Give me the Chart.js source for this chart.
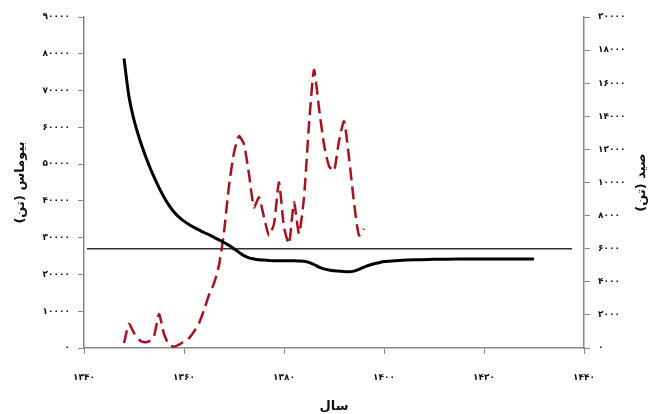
<!DOCTYPE html>
<html>
<head>
<meta charset="utf-8">
<script src="https://cdn.jsdelivr.net/npm/chart.js@4/dist/chart.umd.min.js"></script>
<style>
  html, body { margin: 0; padding: 0; background: #fff; }
  canvas { display: block; }
</style>
</head>
<body>
<canvas id="c" width="661" height="414" dir="rtl"></canvas>
<script>
// ---- data ----
const biomassYears = [1348,1349,1350,1351,1352,1353,1354,1355,1356,1357,1358,1359,1360,1361,1362,1363,1364,1365,1366,1367,1368,1369,1370,1371,1372,1373,1374,1375,1376,1377,1378,1380,1382,1384,1385,1386,1387,1388,1389,1390,1392,1393,1394,1395,1396,1397,1398,1399,1400,1403,1406,1410,1415,1420,1425,1430];
const biomassValues = [78700,68300,62000,57300,53300,49700,46500,43600,41000,38800,37000,35600,34500,33600,32800,32100,31400,30800,30100,29400,28700,27900,27000,26000,25100,24500,24200,24000,23900,23800,23700,23700,23700,23600,23300,22700,22000,21500,21200,21000,20800,20700,20900,21400,22000,22500,22900,23200,23500,23800,24000,24100,24200,24200,24200,24200];

const catchYears = [1348,1349,1350,1351,1352,1353,1354,1355,1356,1357,1358,1359,1360,1361,1362,1363,1364,1365,1366,1367,1368,1369,1370,1371,1372,1373,1374,1375,1376,1377,1378,1379,1380,1381,1382,1383,1384,1385,1386,1387,1388,1389,1390,1391,1392,1393,1394,1395,1396];
const catchValues = [300,1450,900,500,350,400,700,2050,850,200,80,200,400,600,1000,1500,2300,3200,3900,5000,7000,9800,11800,12800,12300,10500,8500,9100,7900,6800,7500,10000,7300,6300,8800,6900,9100,13500,16800,14500,12300,11000,10700,12500,13700,11500,8800,6800,7200];

const refYears = [1340.6, 1437.6];
const refValues = [6000, 6000];

const xTicks = [1340,1360,1380,1400,1420,1440];
const leftTicks = [0,10000,20000,30000,40000,50000,60000,70000,80000,90000];
const rightTicks = [0,2000,4000,6000,8000,10000,12000,14000,16000,18000,20000];

const xTitle = 'سال';
const leftTitle = 'بیوماس (تن)';
const rightTitle = 'صید (تن)';

// ---- helpers ----
const FA = '۰۱۲۳۴۵۶۷۸۹';
const toFa = v => String(v).replace(/\d/g, d => FA[d]);
const pts = (xs, ys) => xs.map((x, i) => ({ x: x, y: ys[i] }));

const tickFont = { family: 'DejaVu Sans', size: 9, weight: 'bold' };
const titleFont = { family: 'DejaVu Sans', size: 13, weight: 'bold' };

const rightTitlePlugin = {
  id: 'rightTitle',
  afterDraw(chart) {
    const ctx = chart.ctx;
    const ca = chart.chartArea;
    ctx.save();
    ctx.translate(642, (ca.top + ca.bottom) / 2);
    ctx.rotate(-Math.PI / 2);
    ctx.fillStyle = '#111';
    ctx.font = 'bold 13px "DejaVu Sans"';
    ctx.textAlign = 'center';
    ctx.textBaseline = 'middle';
    ctx.fillText(rightTitle, 0, 0);
    ctx.restore();
  }
};

new Chart(document.getElementById('c'), {
  type: 'line',
  data: {
    datasets: [
      {
        label: 'بیوماس',
        data: pts(biomassYears, biomassValues),
        yAxisID: 'y',
        borderColor: '#000',
        borderWidth: 3,
        pointRadius: 0,
        cubicInterpolationMode: 'monotone',
        fill: false
      },
      {
        label: 'صید',
        data: pts(catchYears, catchValues),
        yAxisID: 'y1',
        borderColor: '#a3141f',
        borderWidth: 2.5,
        borderDash: [13, 6],
        pointRadius: 0,
        tension: 0.2,
        fill: false
      },
      {
        label: 'MSY',
        data: pts(refYears, refValues),
        yAxisID: 'y1',
        borderColor: '#333',
        borderWidth: 1.6,
        pointRadius: 0,
        tension: 0,
        fill: false
      }
    ]
  },
  options: {
    responsive: false,
    animation: false,
    devicePixelRatio: 1,
    layout: { padding: { top: 17, left: 0, right: 0, bottom: 0 } },
    plugins: { legend: { display: false }, tooltip: { enabled: false } },
    scales: {
      x: {
        type: 'linear',
        min: 1340, max: 1440,
        afterBuildTicks: s => { s.ticks = xTicks.map(v => ({ value: v })); },
        afterFit: s => { s.height = 66; },
        border: { display: true, color: '#888', width: 1.5 },
        grid: { drawOnChartArea: false, drawTicks: true, tickLength: 6, color: '#888' },
        ticks: { color: '#111', font: tickFont, padding: 18, maxRotation: 0, callback: v => toFa(v) },
        title: { display: true, text: xTitle, color: '#111', font: titleFont, padding: { top: 4, bottom: 0 } }
      },
      y: {
        type: 'linear', position: 'left',
        min: 0, max: 90000,
        afterBuildTicks: s => { s.ticks = leftTicks.map(v => ({ value: v })); },
        afterFit: s => { s.width = 84; },
        border: { display: true, color: '#888', width: 1.5 },
        grid: { drawOnChartArea: false, drawTicks: true, tickLength: 6, color: '#888' },
        ticks: { color: '#111', font: tickFont, padding: 8, callback: v => toFa(v) },
        title: { display: true, text: leftTitle, color: '#111', font: titleFont, padding: { top: 13, bottom: 0 } }
      },
      y1: {
        type: 'linear', position: 'right',
        min: 0, max: 20000,
        afterBuildTicks: s => { s.ticks = rightTicks.map(v => ({ value: v })); },
        afterFit: s => { s.width = 77; },
        border: { display: true, color: '#888', width: 1.5 },
        grid: { drawOnChartArea: false, drawTicks: true, tickLength: 6, color: '#888' },
        ticks: { color: '#111', font: tickFont, padding: 8, callback: v => toFa(v) }
      }
    }
  },
  plugins: [rightTitlePlugin]
});
</script>
</body>
</html>
